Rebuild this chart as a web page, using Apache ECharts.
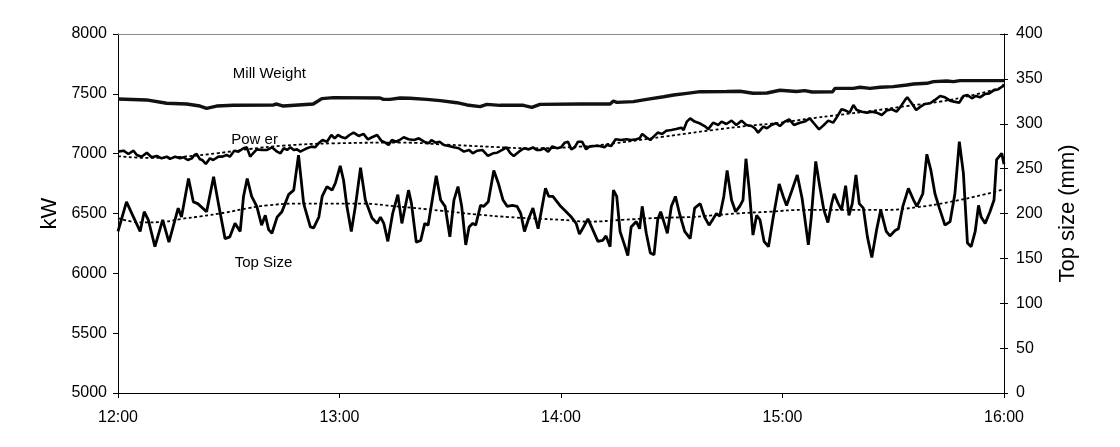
<!DOCTYPE html>
<html>
<head>
<meta charset="utf-8">
<script src="https://cdn.jsdelivr.net/npm/echarts@6/dist/echarts.min.js"></script>
<style>
  html, body { margin: 0; padding: 0; background: #fff; }
  #main { width: 1120px; height: 447px; }
</style>
</head>
<body>
<div id="main"></div>
<script>
// minutes after 12:00
var topSizeMin = [0,2.3,4.2,6,7.1,8.2,10,12.1,13.8,16.3,17.2,19.1,20.4,21.6,24,25.9,27.2,29,30.3,31.7,
  33.1,34,35,36.2,37.6,38.9,39.9,40.8,41.7,43.1,44.4,46.2,47.6,48.9,50.3,52.1,53,54.4,55.3,56.6,
  58,58.9,60.2,61.1,62,63.2,64.3,65.7,67,68.8,70.2,71.1,72,73.1,74.4,75.8,76.9,78.7,79.5,80.8,
  82,83.1,84,86.2,87.4,88.6,89.9,91,92.1,93.1,94.2,95.1,96.1,96.9,98.2,99.1,100.3,101.8,103,104.3,
  105.4,106.8,108.1,109.1,110.1,111.3,112.4,113.8,115.8,116.7,117.8,119.9,121.4,122.8,124.1,125,126.1,127.3,128.6,130,
  131.3,132.2,133.3,134.2,135.1,136,137.2,138.1,139,140.4,141.3,142,143.1,144.2,145.2,146.2,147,148,148.8,149.9,
  151,152.1,153.5,155,156.2,157.7,158.9,160.1,161.2,162.1,163,164.1,165,166.2,167.3,168.4,169.3,170.1,171,172,
  173,173.9,175,176.2,177.5,179.1,180.2,181.1,182.4,184,185.3,186,187,187.8,189,190.1,191.2,192.3,193.3,194,
  195.1,196,197.1,198,198.9,199.9,200.8,201.9,203,204.2,205.5,206.6,208.1,209.1,210.5,211.4,212.6,214.1,215.5,216.4,
  218,219.1,220.2,221.3,222.5,224,225.4,226.7,227.9,229,230.1,231.1,232.2,233.1,233.8,234.9,236.2,237.3,238,239.4,240];
var topSize = [180,213,196,180,202,193,163,193,168,206,196,239,213,211,202,241,211,172,174,189,
  180,219,239,219,208,187,198,182,178,196,202,221,226,265,211,185,184,196,219,230,
  226,234,253,237,208,180,208,251,215,195,189,196,189,169,200,221,189,226,211,168,
  170,189,187,242,215,208,174,215,230,208,165,185,189,187,209,208,213,248,234,215,
  208,209,208,200,180,195,206,183,228,219,219,208,202,196,189,177,185,194,182,169,
  170,175,163,226,219,180,165,153,185,191,183,208,178,156,154,193,202,189,178,208,
  219,200,180,172,206,211,196,187,194,200,197,219,248,215,202,208,215,261,226,176,
  198,193,169,163,196,233,219,209,224,243,217,196,165,196,258,230,204,190,211,222,
  211,204,231,198,211,243,211,206,174,151,182,204,180,175,181,183,208,228,215,208,
  222,266,248,222,206,187,191,222,280,245,167,163,180,209,196,189,202,215,260,267,255];

var powerMin = [0,1.5,2.8,4.2,5.1,6.4,7.8,9.1,10.5,11.8,
  13.2,14.1,15.5,16.8,17.7,18.9,20,20.7,21.3,22.2,
  22.8,23.8,24.9,25.8,27.2,28.3,29.4,30.3,31.5,32.6,
  34,34.9,35.8,36.4,37.6,38.9,40.4,41.7,43.1,44,
  44.9,45.8,46.7,47.6,48.5,49.4,50.3,51.2,52.4,53.4,
  54.5,55.4,56.6,57.8,58.7,59.6,60.7,61.6,62.7,63.8,
  65.2,66.5,67.7,68.8,70.2,71.3,72.4,73.3,74.2,75.3,
  76.3,77.4,78.7,80.2,81.5,82.9,84.2,84.9,86,87.1,
  88.3,89.6,91,92.3,93.7,95.1,96.1,97.3,98.7,100.2,
  101.6,102.7,104.1,105.2,106.3,107.2,108.6,110,111.3,112.4,
  113.4,114.5,115.4,116.5,117.6,119,120,121,121.9,122.8,
  123.7,124.6,125.7,126.8,127.7,129.1,130.4,131.8,132.4,133.6,
  134.8,136.3,137.7,139,140.4,141.3,142,143.1,144.2,145.3,
  146.2,147.4,148.5,149.9,151.2,152.6,153.2,154.1,155,156.2,
  157.5,158.9,159.9,161.2,162.6,163.5,164.8,166.2,167.5,168.9,
  170.2,171.6,172.5,173.4,174.8,175.8,177,178.2,179.3,180.6,
  181.8,183.1,184.7,186,187.4,188.5,189.9,191.2,192.4,193.7,
  194.8,196,197.1,198.2,199.2,200.1,201.5,202.8,204.2,205.5,
  206.9,208.2,209.6,210.9,212,213.2,213.8,215,216.2,217.4,
  218.6,220,221.3,222.7,224,225.4,226.5,227.9,229,230.1,
  231.3,232.4,233.5,234.9,236,237.1,238.5,239.7,240];
var power = [7017,7025,6997,7025,6989,6975,7008,6970,6981,6961,
  6975,6956,6975,6961,6970,6947,6961,6989,6997,6953,
  6947,6914,6961,6947,6975,6975,6989,6975,7025,7017,
  7045,7053,6975,6997,7036,7031,7031,7053,7017,7003,
  7045,7031,7053,7031,7036,7017,7031,7045,7059,7053,
  7092,7114,7100,7156,7128,7156,7137,7128,7156,7176,
  7148,7165,7120,7137,7156,7109,7092,7073,7114,7100,
  7114,7137,7120,7114,7128,7100,7087,7114,7092,7100,
  7073,7064,7053,7045,7017,7031,7003,7025,7031,6981,
  7003,7008,7031,7053,7003,6981,7017,7045,7036,7053,
  7031,7031,7045,7017,7059,7045,7053,7092,7100,7036,
  7053,7100,7100,7036,7059,7064,7064,7053,7073,7064,
  7120,7114,7120,7114,7120,7128,7165,7137,7114,7148,
  7176,7165,7192,7198,7206,7217,7198,7268,7295,7268,
  7254,7231,7205,7259,7240,7268,7248,7276,7240,7276,
  7240,7231,7212,7176,7226,7212,7240,7254,7231,7268,
  7287,7240,7259,7268,7295,7254,7203,7240,7276,7259,
  7309,7371,7360,7343,7407,7365,7351,7343,7351,7343,
  7323,7360,7371,7351,7393,7449,7471,7421,7365,7393,
  7415,7421,7449,7482,7471,7443,7435,7426,7482,7490,
  7463,7482,7471,7499,7504,7527,7538,7566,7580];

var millMin = [0,7.7,13.2,18.6,22.2,24,26.7,31.3,42.1,43,44.8,52.9,55.2,58.4,71,71.9,73.7,76.4,79.1,83.6,
  87.3,91.8,94.5,98.1,99.9,103.5,109.8,112.1,114.3,125.2,133.3,134.2,135.1,139.6,143.2,147.8,150.5,154.1,157.7,164.9,
  168.5,172,175.8,179.3,183.8,186,188,193.6,194.2,199.2,201,203.7,206.4,210,213.7,215.5,219.1,220.9,224.5,226.3,228.1,240];
var millWeight = [7457,7449,7421,7415,7398,7379,7398,7404,7407,7415,7398,7415,7460,7468,7465,7454,7454,7465,7463,7454,
  7443,7426,7407,7393,7412,7404,7404,7387,7412,7415,7415,7440,7429,7435,7454,7476,7490,7504,7518,7520,
  7522,7505,7507,7530,7520,7527,7515,7518,7546,7546,7555,7546,7555,7560,7574,7582,7588,7602,7607,7602,7610,7610];

var powerTrendMin = [0,8.6,17.6,26.7,35.7,44.8,58.3,76.4,89.1,102.6,111.6,125.2,134.2,147.8,161.3,170.3,179.4,186.6,195.6,204.6,213.7,222.7,231.7,240];
var powerTrend = [6980,6964,6975,7003,7039,7067,7086,7092,7075,7055,7045,7059,7086,7142,7198,7231,7259,7290,7325,7359,7398,7435,7490,7560];

var topTrendMin = [0,6.4,12.7,17.2,22.7,29,35.3,40.4,48,57.1,66.1,75.1,87.8,96.9,105.9,114.9,120,127.7,136.8,145.8,154.8,158.5,167.5,176.6,185.6,194.6,207.3,216.4,225.4,234.4,240];
var topTrend = [195,190,191,194,197,201,206,209,211,211,211,208,203,199,196,194,193,191,193,195,196,197,200,202,204,204,204,207,213,221,227];

function pairs(t, v) {
  return t.map(function (x, i) { return [x, v[i]]; });
}

var FONT = 'Liberation Sans, Arial, sans-serif';

function label(text, x, y) {
  return {
    symbol: 'circle',
    symbolSize: 0,
    silent: true,
    label: { show: true, position: 'inside', formatter: text, color: '#000', fontSize: 15, fontFamily: FONT },
    data: [{ coord: [x, y] }]
  };
}

var plain = function (v) { return String(v); };

var chart = echarts.init(document.getElementById('main'), null, { renderer: 'canvas' });

var option = {
  animation: false,
  backgroundColor: '#fff',
  textStyle: { fontFamily: FONT, color: '#000' },
  grid: { left: 118, right: 116, top: 34, bottom: 54 },
  xAxis: [
    {
      type: 'value', min: 0, max: 240, interval: 60, position: 'bottom',
      axisLine: { onZero: false, lineStyle: { color: '#000', width: 1 } },
      axisTick: { length: 5, lineStyle: { color: '#000' } },
      axisLabel: {
        color: '#000', fontSize: 16, fontFamily: FONT, margin: 17,
        formatter: function (v) { return (12 + v / 60) + ':00'; }
      },
      splitLine: { show: false }
    },
    {
      type: 'value', min: 0, max: 240, position: 'top',
      axisLine: { onZero: false, lineStyle: { color: '#8c8c8c', width: 1 } },
      axisTick: { show: false }, axisLabel: { show: false }, splitLine: { show: false }
    }
  ],
  yAxis: [
    {
      type: 'value', min: 5000, max: 8000, interval: 500, position: 'left',
      name: 'kW', nameLocation: 'middle', nameGap: 54, nameRotate: 90,
      nameTextStyle: { fontSize: 22, color: '#000', fontFamily: FONT },
      axisLine: { show: true, onZero: false, lineStyle: { color: '#000', width: 1 } },
      axisTick: { show: true, length: 5, lineStyle: { color: '#000' } },
      axisLabel: { color: '#000', fontSize: 16, fontFamily: FONT, margin: 11, formatter: plain },
      splitLine: { show: false }
    },
    {
      type: 'value', min: 0, max: 400, interval: 50, position: 'right',
      name: 'Top size (mm)', nameLocation: 'middle', nameGap: 53, nameRotate: 90,
      nameTextStyle: { fontSize: 22, color: '#000', fontFamily: FONT },
      axisLine: { show: true, onZero: false, lineStyle: { color: '#000', width: 1 } },
      axisTick: { show: true, length: 4, lineStyle: { color: '#000' } },
      axisLabel: { color: '#000', fontSize: 16, fontFamily: FONT, margin: 12, formatter: plain },
      splitLine: { show: false }
    },
    {
      type: 'value', min: 0, max: 400, interval: 50, position: 'right',
      axisLine: { show: false, onZero: false },
      axisTick: { show: true, inside: true, length: 4, lineStyle: { color: '#000' } },
      axisLabel: { show: false },
      splitLine: { show: false }
    }
  ],
  series: [
    {
      name: 'Power trend', type: 'line', yAxisIndex: 0, smooth: true, showSymbol: false, silent: true,
      lineStyle: { color: '#000', width: 1.8, type: [3, 2.5] },
      data: pairs(powerTrendMin, powerTrend)
    },
    {
      name: 'Top size trend', type: 'line', yAxisIndex: 1, smooth: true, showSymbol: false, silent: true,
      lineStyle: { color: '#000', width: 1.8, type: [3, 2.5] },
      data: pairs(topTrendMin, topTrend)
    },
    {
      name: 'Mill Weight', type: 'line', yAxisIndex: 0, showSymbol: false,
      lineStyle: { color: '#111', width: 3.4 },
      data: pairs(millMin, millWeight),
      markPoint: label('Mill Weight', 41, 7666)
    },
    {
      name: 'Power', type: 'line', yAxisIndex: 0, showSymbol: false,
      lineStyle: { color: '#000', width: 2.6 },
      data: pairs(powerMin, power),
      markPoint: label('Pow er', 37, 7114)
    },
    {
      name: 'Top Size', type: 'line', yAxisIndex: 1, showSymbol: false,
      lineStyle: { color: '#000', width: 2.8 },
      data: pairs(topSizeMin, topSize),
      markPoint: label('Top Size', 39.4, 145)
    }
  ]
};

option && chart.setOption(option);
</script>
</body>
</html>
